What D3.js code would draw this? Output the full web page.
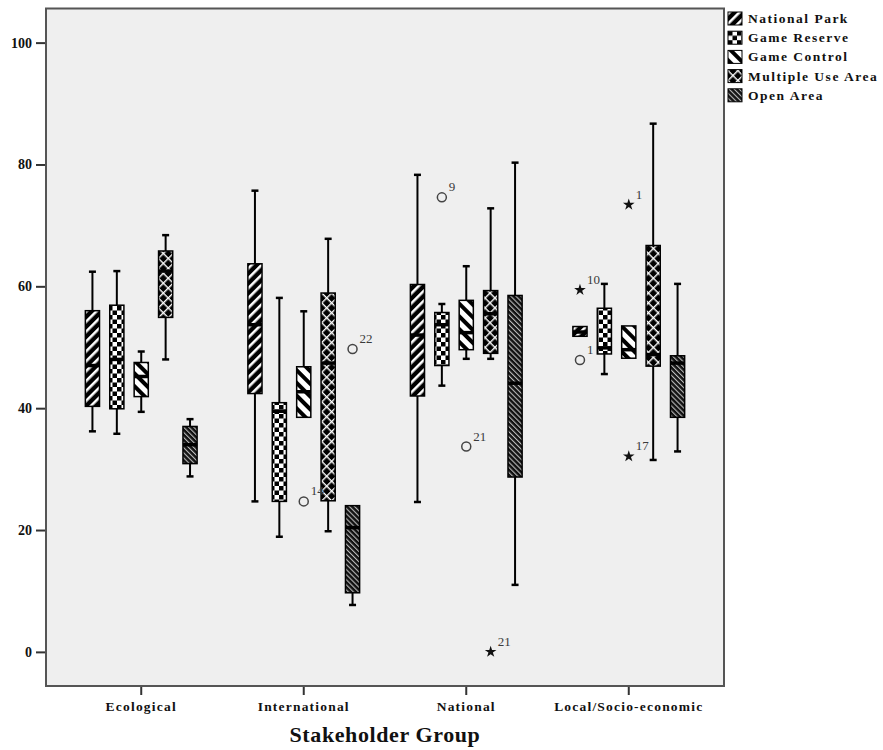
<!DOCTYPE html>
<html>
<head>
<meta charset="utf-8">
<script src="https://cdn.jsdelivr.net/npm/d3@7"></script>
<style>
  body { margin: 0; background: #fff; }
  text { font-family: "Liberation Serif", "Times New Roman", serif; }
</style>
</head>
<body>
<div id="chart"></div>
<script>
// Stakeholder groups and land-use series
const groups = ["Ecological", "International", "National", "Local/Socio-economic"];
const series = ["National Park", "Game Reserve", "Game Control", "Multiple Use Area", "Open Area"];
const yTicks = [0, 20, 40, 60, 80, 100];

// Box stats per group: [whisker low, q1, median, q3, whisker high]
const nationalPark = [[36.2, 40.3, 47.0, 56.0, 62.4], [24.7, 42.4, 53.7, 63.7, 75.7], [24.6, 42.0, 52.0, 60.3, 78.3], [51.8, 51.8, 52.5, 53.4, 53.4]];
const gameReserve  = [[35.8, 39.9, 48.0, 56.9, 62.5], [18.9, 24.7, 39.5, 40.9, 58.1], [43.7, 47.0, 53.7, 55.7, 57.1], [45.6, 48.9, 49.9, 56.4, 60.4]];
const gameControl  = [[39.4, 41.9, 45.2, 47.5, 49.3], [38.5, 38.5, 42.7, 46.8, 55.9], [48.1, 49.6, 52.4, 57.7, 63.3], [48.2, 48.2, 49.6, 53.5, 53.5]];
const multipleUse  = [[48.0, 54.9, 62.5, 65.8, 68.4], [19.8, 24.8, 47.4, 58.9, 67.8], [48.1, 49.0, 55.5, 59.3, 72.8], [31.5, 46.9, 48.8, 66.7, 86.7]];
const openArea     = [[28.8, 30.9, 34.0, 37.0, 38.2], [7.7, 9.7, 20.4, 24.0, 24.0], [11.0, 28.7, 44.1, 58.5, 80.3], [32.9, 38.5, 47.4, 48.6, 60.4]];

// Outliers: group, series, value, kind (circle = outlier, star = extreme), case label
const outlierGroup  = ["International", "International", "National", "National", "National", "Local/Socio-economic", "Local/Socio-economic", "Local/Socio-economic", "Local/Socio-economic"];
const outlierSeries = ["Game Control", "Open Area", "Game Reserve", "Game Control", "Multiple Use Area", "National Park", "National Park", "Game Control", "Game Control"];
const outlierValue  = [24.7, 49.7, 74.6, 33.7, 0.0, 59.4, 47.9, 73.4, 32.1];
const outlierKind   = ["circle", "circle", "circle", "circle", "star", "star", "circle", "star", "star"];
const outlierLabel  = ["14", "22", "9", "21", "21", "10", "1", "1", "17"];

const statsBySeries = [nationalPark, gameReserve, gameControl, multipleUse, openArea];
const boxes = [];
series.forEach((s, si) => {
  groups.forEach((g, gi) => {
    const [lo, q1, med, q3, hi] = statsBySeries[si][gi];
    boxes.push({group: g, series: s, si, lo, q1, med, q3, hi});
  });
});
const outliers = outlierValue.map((v, i) => ({
  group: outlierGroup[i], series: outlierSeries[i], value: v, kind: outlierKind[i], label: outlierLabel[i]
}));

const width = 883, height = 750;
const plot = {left: 46, right: 724, top: 8.5, bottom: 686};

const svg = d3.select("#chart")
  .append("svg")
    .attr("width", width)
    .attr("height", height)
    .attr("viewBox", [0, 0, width, height]);

/* Fill patterns, one per series */
const defs = svg.append("defs");
const patternIds = ["pNP", "pGR", "pGC", "pMU", "pOA"];

// National Park: white "/" stripes on black
let p = defs.append("pattern").attr("id", "pNP").attr("patternUnits", "userSpaceOnUse")
  .attr("width", 7).attr("height", 7).attr("patternTransform", "rotate(45)");
p.append("rect").attr("width", 7).attr("height", 7).attr("fill", "#000");
p.append("rect").attr("x", 0).attr("y", 0).attr("width", 2.6).attr("height", 7).attr("fill", "#fff");

// Game Reserve: checkerboard
p = defs.append("pattern").attr("id", "pGR").attr("patternUnits", "userSpaceOnUse")
  .attr("width", 9).attr("height", 9);
p.append("rect").attr("width", 9).attr("height", 9).attr("fill", "#fff");
p.append("rect").attr("width", 4.5).attr("height", 4.5).attr("fill", "#000");
p.append("rect").attr("x", 4.5).attr("y", 4.5).attr("width", 4.5).attr("height", 4.5).attr("fill", "#000");

// Game Control: black "\" stripes on white
p = defs.append("pattern").attr("id", "pGC").attr("patternUnits", "userSpaceOnUse")
  .attr("width", 9).attr("height", 9).attr("patternTransform", "rotate(-45)");
p.append("rect").attr("width", 9).attr("height", 9).attr("fill", "#fff");
p.append("rect").attr("width", 4).attr("height", 9).attr("fill", "#000");

// Multiple Use Area: white diamond lattice on black
p = defs.append("pattern").attr("id", "pMU").attr("patternUnits", "userSpaceOnUse")
  .attr("width", 7).attr("height", 7).attr("patternTransform", "rotate(45)");
p.append("rect").attr("width", 7).attr("height", 7).attr("fill", "#000");
p.append("rect").attr("width", 1.4).attr("height", 7).attr("fill", "#fff");
p.append("rect").attr("width", 7).attr("height", 1.4).attr("fill", "#fff");

// Open Area: thin grey "\" hatching on black
p = defs.append("pattern").attr("id", "pOA").attr("patternUnits", "userSpaceOnUse")
  .attr("width", 3.6).attr("height", 3.6).attr("patternTransform", "rotate(-45)");
p.append("rect").attr("width", 3.6).attr("height", 3.6).attr("fill", "#111");
p.append("rect").attr("width", 1.1).attr("height", 3.6).attr("fill", "#bbb");

/* Scales */
const x = d3.scaleBand()
  .domain(groups)
  .range([plot.left, plot.right])
  .paddingInner(0)
  .paddingOuter(0.086);

const inner = 122;
const xs = d3.scaleBand()
  .domain(series)
  .range([(x.bandwidth() - inner) / 2, (x.bandwidth() + inner) / 2])
  .paddingInner(0.42)
  .paddingOuter(0.21);

const y = d3.scaleLinear()
  .domain([-5.6, 105.6])
  .range([plot.bottom, plot.top]);

const cx = (g, s) => x(g) + xs(s) + xs.bandwidth() / 2;

/* Plot background */
svg.append("rect")
  .attr("x", plot.left).attr("y", plot.top)
  .attr("width", plot.right - plot.left).attr("height", plot.bottom - plot.top)
  .attr("fill", "#efefef")
  .attr("stroke", "#555")
  .attr("stroke-width", 2);

/* Boxes */
const bw = xs.bandwidth();
const capW = 7;
const boxG = svg.append("g").attr("class", "boxes")
  .selectAll("g")
  .data(boxes)
  .join("g");

// whiskers
boxG.filter(d => d.hi > d.q3).append("line")
  .attr("x1", d => cx(d.group, d.series)).attr("x2", d => cx(d.group, d.series))
  .attr("y1", d => y(d.q3)).attr("y2", d => y(d.hi))
  .attr("stroke", "#000").attr("stroke-width", 2);
boxG.filter(d => d.lo < d.q1).append("line")
  .attr("x1", d => cx(d.group, d.series)).attr("x2", d => cx(d.group, d.series))
  .attr("y1", d => y(d.q1)).attr("y2", d => y(d.lo))
  .attr("stroke", "#000").attr("stroke-width", 2);
boxG.filter(d => d.hi > d.q3).append("line")
  .attr("x1", d => cx(d.group, d.series) - capW / 2).attr("x2", d => cx(d.group, d.series) + capW / 2)
  .attr("y1", d => y(d.hi)).attr("y2", d => y(d.hi))
  .attr("stroke", "#000").attr("stroke-width", 2.5);
boxG.filter(d => d.lo < d.q1).append("line")
  .attr("x1", d => cx(d.group, d.series) - capW / 2).attr("x2", d => cx(d.group, d.series) + capW / 2)
  .attr("y1", d => y(d.lo)).attr("y2", d => y(d.lo))
  .attr("stroke", "#000").attr("stroke-width", 2.5);

// box body
boxG.append("rect")
  .attr("x", d => cx(d.group, d.series) - bw / 2)
  .attr("y", d => y(d.q3))
  .attr("width", bw)
  .attr("height", d => y(d.q1) - y(d.q3))
  .attr("fill", d => `url(#${patternIds[d.si]})`)
  .attr("stroke", "#000")
  .attr("stroke-width", 1.5);

// median
boxG.append("line")
  .attr("x1", d => cx(d.group, d.series) - bw / 2).attr("x2", d => cx(d.group, d.series) + bw / 2)
  .attr("y1", d => y(d.med)).attr("y2", d => y(d.med))
  .attr("stroke", "#000").attr("stroke-width", 3.5);

/* Outliers */
const outG = svg.append("g").attr("class", "outliers")
  .selectAll("g")
  .data(outliers)
  .join("g")
    .attr("transform", d => `translate(${cx(d.group, d.series)},${y(d.value)})`);

outG.filter(d => d.kind === "circle").append("circle")
  .attr("r", 4.5)
  .attr("fill", "none")
  .attr("stroke", "#444")
  .attr("stroke-width", 1.5);

outG.filter(d => d.kind === "star").append("path")
  .attr("d", d3.symbol(d3.symbolStar, 42))
  .attr("fill", "#111");

outG.append("text")
  .attr("x", 7)
  .attr("y", -6)
  .attr("font-size", 13)
  .attr("fill", "#3a3a3a")
  .text(d => d.label);

/* Axes */
const yAxis = svg.append("g")
  .attr("transform", `translate(${plot.left - 1},0)`)
  .call(d3.axisLeft(y).tickValues(yTicks).tickSize(9).tickPadding(4));
yAxis.select(".domain").remove();
yAxis.selectAll(".tick line").attr("stroke", "#333").attr("stroke-width", 2);
yAxis.selectAll(".tick text")
  .attr("font-family", "Liberation Serif, serif")
  .attr("font-size", 14)
  .attr("font-weight", "bold")
  .attr("fill", "#111");

const xAxis = svg.append("g")
  .attr("transform", `translate(0,${plot.bottom + 1})`)
  .call(d3.axisBottom(x).tickSize(8).tickPadding(6));
xAxis.select(".domain").remove();
xAxis.selectAll(".tick line").attr("stroke", "#333").attr("stroke-width", 2);
xAxis.selectAll(".tick text")
  .attr("font-family", "Liberation Serif, serif")
  .attr("font-size", 13.5)
  .attr("font-weight", "bold")
  .attr("letter-spacing", 1.2)
  .attr("fill", "#111");

svg.append("text")
  .attr("x", (plot.left + plot.right) / 2)
  .attr("y", 742)
  .attr("text-anchor", "middle")
  .attr("font-size", 22)
  .attr("font-weight", "bold")
  .attr("letter-spacing", 0.6)
  .attr("fill", "#111")
  .text("Stakeholder Group");

/* Legend */
const legend = svg.append("g")
  .attr("class", "legend")
  .attr("transform", "translate(728,12)")
  .selectAll("g")
  .data(series)
  .join("g")
    .attr("transform", (d, i) => `translate(0,${i * 19.2})`);

legend.append("rect")
  .attr("width", 14)
  .attr("height", 13)
  .attr("fill", (d, i) => `url(#${patternIds[i]})`)
  .attr("stroke", "#000")
  .attr("stroke-width", 1);

legend.append("text")
  .attr("x", 20)
  .attr("y", 11)
  .attr("font-size", 13.5)
  .attr("font-weight", "bold")
  .attr("letter-spacing", 1.5)
  .attr("fill", "#111")
  .text(d => d);
</script>
</body>
</html>
